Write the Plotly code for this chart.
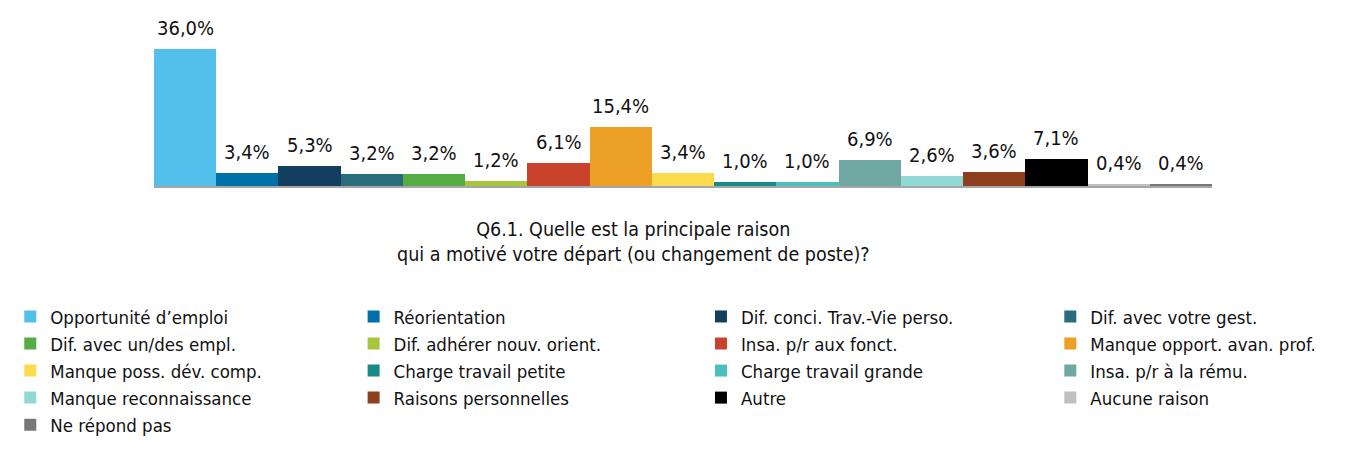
import plotly.graph_objects as go

categories = [
    "Opportunité d’emploi", "Réorientation", "Dif. conci. Trav.-Vie perso.", "Dif. avec votre gest.",
    "Dif. avec un/des empl.", "Dif. adhérer nouv. orient.", "Insa. p/r aux fonct.", "Manque opport. avan. prof.",
    "Manque poss. dév. comp.", "Charge travail petite", "Charge travail grande", "Insa. p/r à la rému.",
    "Manque reconnaissance", "Raisons personnelles", "Autre", "Aucune raison", "Ne répond pas",
]
values = [36.0, 3.4, 5.3, 3.2, 3.2, 1.2, 6.1, 15.4, 3.4, 1.0, 1.0, 6.9, 2.6, 3.6, 7.1, 0.4, 0.4]
colors = [
    "#53BFEB", "#0070A8", "#133F5F", "#2A6B7C", "#55AB44", "#A7C53A", "#C9432C", "#ECA025",
    "#FDDB4F", "#168C85", "#4BBFBD", "#6FA7A3", "#90D9D5", "#8E3F1E", "#000000", "#C0C0C0", "#777777",
]
title_text = "Q6.1. Quelle est la principale raison<br>qui a motivé votre départ (ou changement de poste)?"

FONT = "DejaVu Sans Condensed, Liberation Sans, Arial, sans-serif"
legend_ids = ["legend", "legend2", "legend3", "legend4"]

fig = go.Figure()
for i, (cat, val, col) in enumerate(zip(categories, values, colors)):
    fig.add_trace(go.Bar(
        x=[cat], y=[val], name=cat, marker=dict(color=col, line=dict(width=0)),
        width=1, legend=legend_ids[i % 4], cliponaxis=False, hoverinfo="x+y",
    ))

labels = [dict(x=cat, y=val, text=f"{val:.1f}".replace(".", ",") + "%", xref="x", yref="y",
               yanchor="bottom", yshift=7, showarrow=False,
               font=dict(size=20, family=FONT, color="#111111"))
          for cat, val in zip(categories, values)]

L, W = 144, 1060
def px(xp):
    return (xp - L) / W

leg_common = dict(orientation="v", yanchor="top", y=-0.636, xanchor="left",
                  traceorder="normal", bgcolor="rgba(0,0,0,0)", itemclick=False,
                  font=dict(size=18.5, family=FONT, color="#111111"))

fig.update_layout(
    width=1345, height=451,
    margin=dict(l=L, r=1345 - L - W, t=2, b=273),
    plot_bgcolor="white", paper_bgcolor="white",
    barmode="overlay", bargap=0,
    showlegend=True,
    font=dict(family=FONT, color="#111111"),
    xaxis=dict(showticklabels=False, showline=True, linecolor="#A6A6A6", linewidth=2,
               ticks="", showgrid=False, zeroline=False, categoryorder="array", categoryarray=categories),
    yaxis=dict(range=[0, 46.3], visible=False),
    legend=dict(x=px(0), **leg_common),
    legend2=dict(x=px(344), **leg_common),
    legend3=dict(x=px(692), **leg_common),
    legend4=dict(x=px(1042), **leg_common),
    annotations=labels + [dict(text=title_text, xref="paper", yref="paper", x=px(624), y=-0.17,
                               xanchor="center", yanchor="top", showarrow=False,
                               font=dict(size=19.5, family=FONT, color="#111111"))],
)

fig.write_html("out.html")
